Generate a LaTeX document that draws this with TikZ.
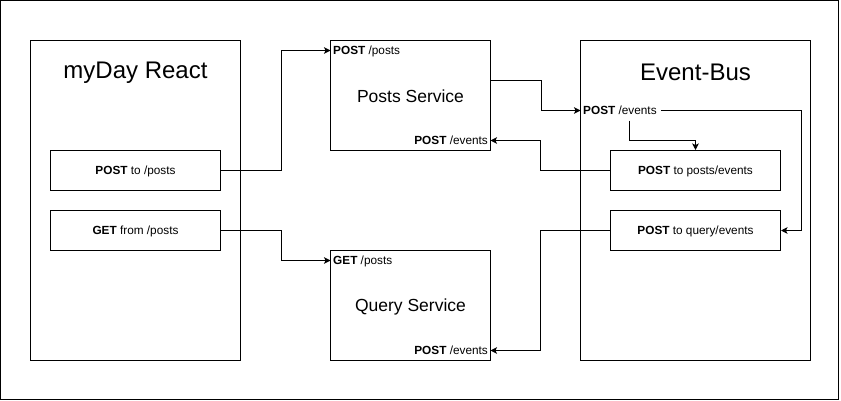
\documentclass[tikz,border=0pt]{standalone}
\usepackage{fontspec}
\setmainfont{Liberation Sans}
\usetikzlibrary{arrows.meta,calc}
\begin{document}
\begin{tikzpicture}[x=1pt,y=-1pt,
  box/.style={draw,line width=1pt,rectangle,inner sep=0pt},
  inbox/.style={box,minimum width=170pt,minimum height=40pt,font=\fontsize{11.8}{13}\selectfont,text height=8.4pt,text depth=0pt},
  small/.style={font=\fontsize{11.8}{13}\selectfont,inner xsep=2.5pt,inner ysep=0pt,text height=8.4pt,text depth=0pt,minimum height=20pt},
  title/.style={font=\fontsize{24}{28}\selectfont,inner sep=0pt},
  svc/.style={font=\fontsize{17.5}{20}\selectfont,inner sep=0pt},
  conn/.style={line width=1pt},
  arr/.style={conn,-{Stealth[length=6.5pt,width=6.5pt,inset=1.5pt]}}]
\useasboundingbox (0,0) rectangle (841,401);
\draw[line width=1pt] (0.5,0.5) rectangle (838.5,399.5);
\begin{scope}[shift={(0.5,0.5)}]
% myDay React
\node[box,minimum width=210pt,minimum height=320pt] (myday) at (135,200) {};
\node[title] (mydayt) at (135,72) {myDay React};
\node[inbox] (postto) at (135,170) {\textbf{POST} to /posts};
\node[inbox] (getfrom) at (135,230) {\textbf{GET} from /posts};
% Posts Service
\node[box,minimum width=160pt,minimum height=110pt] (posts) at (410,95) {};
\node[small,anchor=west] (pp) at (330,50) {\textbf{POST} /posts};
\node[svc] (postst) at (410,96) {Posts Service};
\node[small,anchor=east] (pe) at (490,140) {\textbf{POST} /events};
% Query Service
\node[box,minimum width=160pt,minimum height=110pt] (query) at (410,305) {};
\node[small,anchor=west] (gp) at (330,260) {\textbf{GET} /posts};
\node[svc] (queryt) at (410,306) {Query Service};
\node[small,anchor=east] (qe) at (490,350) {\textbf{POST} /events};
% Event-Bus
\node[box,minimum width=230pt,minimum height=320pt] (bus) at (695,200) {};
\node[title] (bust) at (695,72) {Event-Bus};
\node[small,anchor=west] (bl) at (580,110) {\textbf{POST} /events};
\node[inbox] (pte) at (695,170) {\textbf{POST} to posts/events};
\node[inbox] (qte) at (695,230) {\textbf{POST} to query/events};
% connectors
\draw[arr] (postto.east) -- ++(60,0) |- (pp.west);
\draw[arr] (getfrom.east) -- ++(60,0) |- (gp.west);
\draw[arr] ([yshift=15pt]posts.east) -- ++(50,0) |- (bl.west);
\draw[arr] ([xshift=10pt]bl.south) -- ++(0,20) -| (pte.north);
\draw[arr] ([xshift=2pt]bl.east) -| ([xshift=20pt]qte.east) -- (qte.east);
\draw[arr] (pte.west) -- ++(-70,0) |- (pe.east);
\draw[arr] (qte.west) -- ++(-70,0) |- (qe.east);
\end{scope}
\end{tikzpicture}
\end{document}
